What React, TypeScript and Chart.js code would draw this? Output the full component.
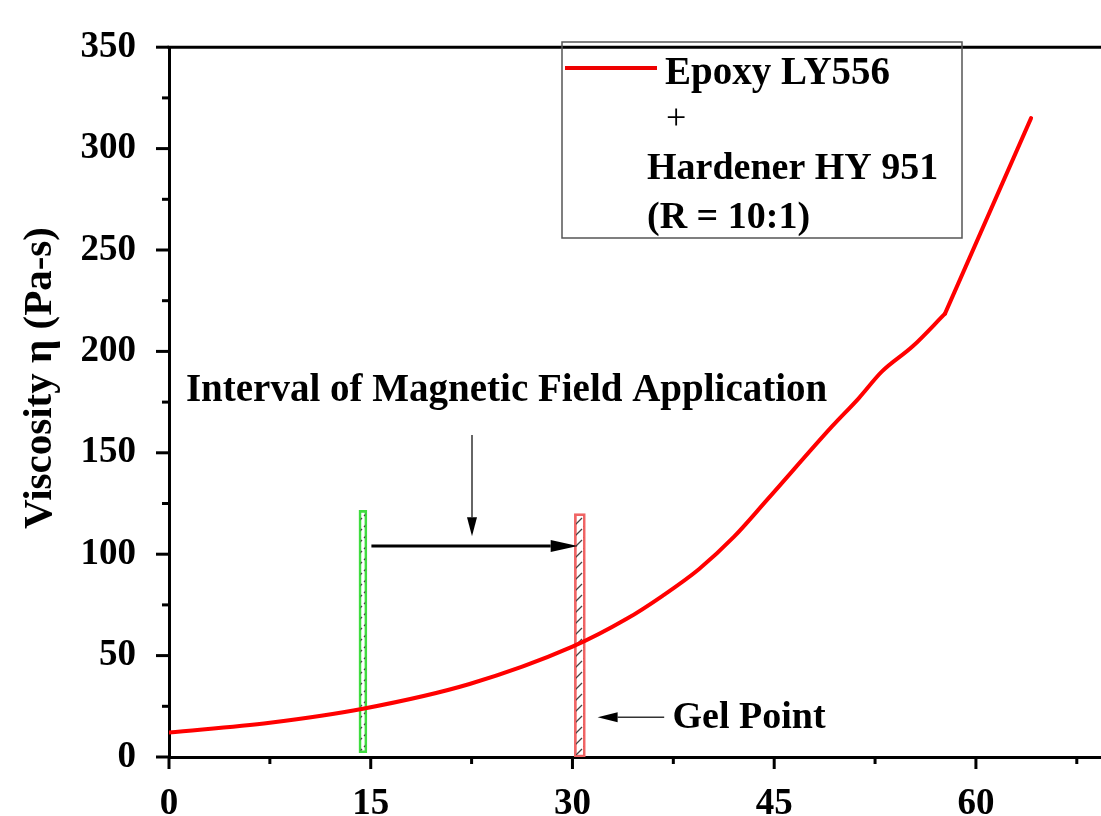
import React, { useEffect, useRef } from 'react';
import { Chart, registerables } from 'chart.js';

Chart.register(...registerables);

// ---- data ----
// smooth (curing) part of the curve
const timeMin = [0, 7.5, 14.42, 22.35, 30.0, 34.0, 36.7, 39.4, 42.0, 44.5, 49.3, 51.3, 53.0, 55.3, 57.7];
const viscosity = [12.1, 16.9, 23.8, 36, 54.4, 68, 79.5, 92.6, 108.5, 127, 163, 177, 190, 202.5, 218.6];
// final straight rise after the kink
const timeLate = [57.7, 64.1];
const viscosityLate = [218.6, 315];

const xTickLabels = ['0', '15', '30', '45', '60'];
const yTickLabels = ['0', '50', '100', '150', '200', '250', '300', '350'];

const yTitle = 'Viscosity \u03b7 (Pa-s)';
const legendLines = ['Epoxy LY556', '+', 'Hardener HY 951', '(R = 10:1)'];
const intervalText = 'Interval of Magnetic Field Application';
const gelText = 'Gel Point';

// interval bars: [x centre, low, high] in data units
const startBar = [14.42, 2.1, 121.6];
const gelBar = [30.55, 0, 120];

const SERIF = "'Liberation Serif', 'Times New Roman', serif";

function drawArrow(ctx: CanvasRenderingContext2D, x1: number, y1: number, x2: number, y2: number, lw: number, headLen: number, headHalf: number, color: string) {
  const ang = Math.atan2(y2 - y1, x2 - x1);
  const bx = x2 - headLen * Math.cos(ang);
  const by = y2 - headLen * Math.sin(ang);
  ctx.save();
  ctx.strokeStyle = color;
  ctx.lineWidth = lw;
  ctx.beginPath();
  ctx.moveTo(x1, y1);
  ctx.lineTo(bx, by);
  ctx.stroke();
  ctx.fillStyle = '#000';
  ctx.beginPath();
  ctx.moveTo(x2, y2);
  ctx.lineTo(bx + headHalf * Math.sin(ang), by - headHalf * Math.cos(ang));
  ctx.lineTo(bx - headHalf * Math.sin(ang), by + headHalf * Math.cos(ang));
  ctx.closePath();
  ctx.fill();
  ctx.restore();
}

const overlayPlugin = {
  id: 'overlay',
  afterDraw(chart: any) {
    const ctx: CanvasRenderingContext2D = chart.ctx;
    const { left, right, top, bottom } = chart.chartArea;
    const xs = chart.scales.x;
    const ys = chart.scales.y;
    const px = (v: number) => xs.getPixelForValue(v);
    const py = (v: number) => ys.getPixelForValue(v);

    ctx.save();
    // top frame line
    ctx.strokeStyle = '#000';
    ctx.lineWidth = 3;
    ctx.beginPath();
    ctx.moveTo(left - 1.5, top);
    ctx.lineTo(right, top);
    ctx.stroke();

    // tick marks (major / minor)
    ctx.lineWidth = 3;
    ys.ticks.forEach((t: any) => {
      const major = yTickLabels.includes(String(t.value));
      const y = py(t.value);
      ctx.beginPath();
      ctx.moveTo(left, y);
      ctx.lineTo(left - (major ? 13 : 7), y);
      ctx.stroke();
    });
    xs.ticks.forEach((t: any) => {
      const major = xTickLabels.includes(String(t.value));
      const x = px(t.value);
      ctx.beginPath();
      ctx.moveTo(x, bottom);
      ctx.lineTo(x, bottom + (major ? 12 : 7));
      ctx.stroke();
    });

    // y axis title
    ctx.save();
    ctx.translate(51, 378);
    ctx.rotate(-Math.PI / 2);
    ctx.fillStyle = '#000';
    ctx.font = `bold 41px ${SERIF}`;
    ctx.textAlign = 'center';
    ctx.textBaseline = 'alphabetic';
    ctx.fillText(yTitle, 0, 0);
    ctx.restore();

    // annotation text + arrows
    ctx.fillStyle = '#000';
    ctx.textAlign = 'left';
    ctx.textBaseline = 'alphabetic';
    ctx.font = `bold 39px ${SERIF}`;
    ctx.fillText(intervalText, px(1.26), py(175.5));

    drawArrow(ctx, px(22.53), py(158.8), px(22.53), py(108.9), 1.5, 19, 5, '#333');
    drawArrow(ctx, px(15.05), py(104.0), px(30.39), py(104.0), 3, 27, 6, '#000');
    drawArrow(ctx, px(36.82), py(19.6), px(31.87), py(19.6), 1.5, 20, 5, '#333');

    ctx.font = `bold 38px ${SERIF}`;
    ctx.fillText(gelText, px(37.44), py(14.5));

    // legend box
    ctx.strokeStyle = '#555';
    ctx.lineWidth = 1.5;
    ctx.strokeRect(562, 42, 400, 196);
    ctx.strokeStyle = '#ee0000';
    ctx.lineWidth = 4;
    ctx.beginPath();
    ctx.moveTo(565, 68);
    ctx.lineTo(657, 68);
    ctx.stroke();
    ctx.fillStyle = '#000';
    ctx.font = `bold 39px ${SERIF}`;
    ctx.fillText(legendLines[0], 665, 84);
    ctx.font = `36px ${SERIF}`;
    ctx.fillText(legendLines[1], 666, 129);
    ctx.font = `bold 38px ${SERIF}`;
    ctx.fillText(legendLines[2], 647, 179);
    ctx.fillText(legendLines[3], 647, 228);
    ctx.restore();
  },
};

function makeHatch(): CanvasPattern | string {
  const c = document.createElement('canvas');
  c.width = 11;
  c.height = 11;
  const g = c.getContext('2d');
  if (!g) return 'rgba(0,0,0,0)';
  g.strokeStyle = '#444';
  g.lineWidth = 1.3;
  g.beginPath();
  g.moveTo(1, 10);
  g.lineTo(10, 1);
  g.stroke();
  const p = g.createPattern(c, 'repeat');
  return p || 'rgba(0,0,0,0)';
}

export default function App() {
  const ref = useRef<HTMLCanvasElement | null>(null);

  useEffect(() => {
    if (!ref.current) return;
    const hatch = makeHatch();
    const early = timeMin.map((t, i) => ({ x: t, y: viscosity[i] }));
    const late = timeLate.map((t, i) => ({ x: t, y: viscosityLate[i] }));
    const chart = new Chart(ref.current, {
      type: 'line',
      data: {
        datasets: [
          {
            type: 'line',
            label: legendLines[0],
            data: early,
            borderColor: '#ff0000',
            borderWidth: 4,
            pointRadius: 0,
            cubicInterpolationMode: 'monotone',
            borderCapStyle: 'round',
            fill: false,
            order: 0,
          } as any,
          {
            type: 'line',
            label: legendLines[0] + ' (late)',
            data: late,
            borderColor: '#ff0000',
            borderWidth: 4,
            pointRadius: 0,
            tension: 0,
            borderCapStyle: 'round',
            fill: false,
            order: 0,
          } as any,
          {
            type: 'bar',
            label: 'start',
            data: [{ x: startBar[0], y: [startBar[1], startBar[2]] }],
            backgroundColor: hatch,
            borderColor: '#3fdc3f',
            borderWidth: 2,
            borderSkipped: false,
            barThickness: 8,
            grouped: false,
            order: 1,
          } as any,
          {
            type: 'bar',
            label: 'gel',
            data: [{ x: gelBar[0], y: [gelBar[1], gelBar[2]] }],
            backgroundColor: hatch,
            borderColor: '#f06464',
            borderWidth: 2,
            borderSkipped: false,
            barThickness: 11,
            grouped: false,
            order: 1,
          } as any,
        ],
      },
      options: {
        animation: false,
        responsive: true,
        maintainAspectRatio: false,
        layout: { padding: { top: 25, right: 0, left: 0, bottom: 0 } },
        plugins: { legend: { display: false }, tooltip: { enabled: false } },
        scales: {
          x: {
            type: 'linear',
            min: 0,
            max: 69.3,
            offset: false,
            grid: { display: false },
            border: { display: true, color: '#000', width: 3 },
            afterFit: (s: any) => { s.height = 59; },
            ticks: {
              stepSize: 7.5,
              includeBounds: false,
              autoSkip: false,
              maxRotation: 0,
              padding: 17,
              color: '#000',
              font: { family: SERIF, size: 37, weight: 'bold' },
              callback: (v: any) => (xTickLabels.includes(String(v)) ? String(v) : ''),
            },
          },
          y: {
            type: 'linear',
            min: 0,
            max: 350,
            grid: { display: false },
            border: { display: true, color: '#000', width: 3 },
            afterFit: (s: any) => { s.width = 169; },
            ticks: {
              stepSize: 25,
              autoSkip: false,
              padding: 25,
              color: '#000',
              font: { family: SERIF, size: 37, weight: 'bold' },
              callback: (v: any) => (yTickLabels.includes(String(v)) ? String(v) : ''),
            },
          },
        },
      } as any,
      plugins: [overlayPlugin],
    });
    return () => chart.destroy();
  }, []);

  return (
    <div style={{ position: 'fixed', left: 0, top: 0, width: 1101, height: 816, background: '#fff' }}>
      <canvas ref={ref} />
    </div>
  );
}
